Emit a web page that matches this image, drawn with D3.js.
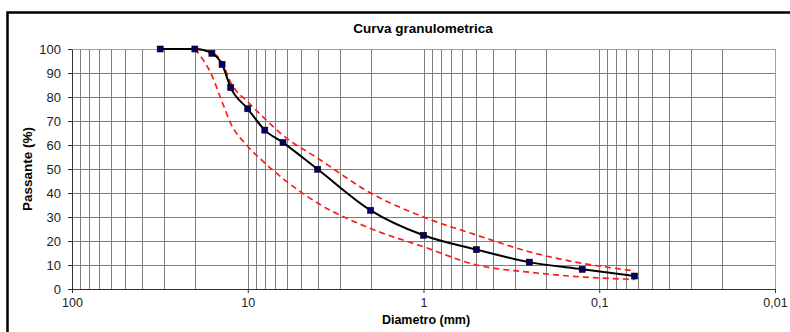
<!DOCTYPE html>
<html>
<head>
<meta charset="utf-8">
<script src="https://cdn.jsdelivr.net/npm/d3@7"></script>
<style>
  body { margin: 0; background: #fff; }
  svg { display: block; font-family: "Liberation Sans", Arial, sans-serif; }
</style>
</head>
<body>
<svg id="chart" width="790" height="332"></svg>
<script>
// sieve sizes (mm) and percent passing
const sieves = [31.5, 20, 16, 14, 12.5, 10, 8, 6.3, 4, 2, 1, 0.5, 0.25, 0.125, 0.063]
const passing = [100, 100, 98.2, 93.6, 83.9, 75.1, 66.2, 61, 49.9, 32.8, 22.4, 16.4, 11.2, 8.2, 5.4]

// envelope (fuso) limits, from 20 mm down
const limitSieves = [20, 16, 14, 12.5, 10, 8, 6.3, 4, 2, 1, 0.5, 0.25, 0.125, 0.063]
const upperLimit = [100, 98.5, 94.5, 86, 78, 71, 64, 54.5, 40, 30, 22.5, 15.5, 10.7, 7.6]
const lowerLimit = [100, 89, 78, 69, 59.5, 52.5, 46, 35.8, 25.2, 17.6, 10, 7, 5, 4]

const xTicks = [100, 10, 1, 0.1, 0.01]
const yTicks = [0, 10, 20, 30, 40, 50, 60, 70, 80, 90, 100]

const margin = { left: 72, top: 49, right: 15, bottom: 43 }
const width = 775 - margin.left
const height = 289 - margin.top

const svg = d3.select("#chart")

// outer frame, runs past the right/bottom edge like the original
svg.append("rect")
    .attr("x", 7.5).attr("y", 12.5)
    .attr("width", 820).attr("height", 400)
    .attr("fill", "none").attr("stroke", "#000").attr("stroke-width", 2.5)

svg.append("text")
    .attr("x", 423).attr("y", 33)
    .attr("text-anchor", "middle")
    .attr("font-size", 13.5).attr("font-weight", "bold")
    .text("Curva granulometrica")

const x = d3.scaleLog().domain([100, 0.01]).range([0, width])
const y = d3.scaleLinear().domain([0, 100]).range([height, 0])

const g = svg.append("g").attr("transform", `translate(${margin.left},${margin.top})`)

// grid
g.append("g")
    .selectAll("line")
    .data(x.ticks())
    .join("line")
    .attr("x1", (d) => Math.round(x(d)) + 0.5).attr("x2", (d) => Math.round(x(d)) + 0.5)
    .attr("y1", 0).attr("y2", height)
    .attr("stroke", "#7d7d7d").attr("stroke-width", 1)

g.append("g")
    .selectAll("line")
    .data(yTicks)
    .join("line")
    .attr("x1", 0).attr("x2", width)
    .attr("y1", (d) => Math.round(y(d)) + 0.5).attr("y2", (d) => Math.round(y(d)) + 0.5)
    .attr("stroke", "#7d7d7d").attr("stroke-width", 1)

// plot border (light grey on top / right)
g.append("rect")
    .attr("x", 0.5).attr("y", 0.5)
    .attr("width", width).attr("height", height)
    .attr("fill", "none").attr("stroke", "#a0a0a0").attr("stroke-width", 1)

const fmt = (d) => String(d).replace(".", ",")

const xAxis = g.append("g")
    .attr("transform", `translate(0, ${height})`)
    .call(d3.axisBottom(x).tickValues(xTicks).tickFormat(fmt).tickSize(4).tickPadding(5).tickSizeOuter(0))
xAxis.select(".domain").attr("stroke", "#333")
xAxis.selectAll(".tick line").attr("stroke", "#333")
xAxis.selectAll("text").attr("font-size", 12.5).attr("fill", "#222").attr("font-family", "Liberation Sans, Arial, sans-serif")

const yAxis = g.append("g")
    .call(d3.axisLeft(y).tickValues(yTicks).tickSize(4).tickPadding(7).tickSizeOuter(0))
yAxis.select(".domain").attr("stroke", "#333")
yAxis.selectAll(".tick line").attr("stroke", "#333")
yAxis.selectAll("text").attr("font-size", 13).attr("fill", "#222").attr("font-family", "Liberation Sans, Arial, sans-serif")

svg.append("text")
    .attr("x", 426).attr("y", 324)
    .attr("text-anchor", "middle")
    .attr("font-size", 12.5).attr("font-weight", "bold")
    .text("Diametro (mm)")

svg.append("text")
    .attr("transform", "translate(32, 169) rotate(-90)")
    .attr("text-anchor", "middle")
    .attr("font-size", 13.5).attr("font-weight", "bold")
    .text("Passante (%)")

const line = d3.line()
    .x((d) => x(d[0]))
    .y((d) => y(d[1]))
    .curve(d3.curveMonotoneX)

const limits = [upperLimit, lowerLimit].map((vals) => limitSieves.map((s, i) => [s, vals[i]]))

g.append("g")
    .selectAll("path")
    .data(limits)
    .join("path")
    .attr("fill", "none")
    .attr("stroke", "#ff1a1a")
    .attr("stroke-width", 1.7)
    .attr("stroke-dasharray", "6,4")
    .attr("d", line)

const pts = sieves.map((s, i) => [s, passing[i]])

g.append("path")
    .datum(pts)
    .attr("fill", "none")
    .attr("stroke", "#000")
    .attr("stroke-width", 2)
    .attr("d", line)

g.append("g")
    .selectAll("rect")
    .data(pts)
    .join("rect")
    .attr("x", (d) => x(d[0]) - 3)
    .attr("y", (d) => y(d[1]) - 3)
    .attr("width", 6).attr("height", 6)
    .attr("fill", "#000066")
    .attr("stroke", "#000").attr("stroke-width", 0.6)
</script>
</body>
</html>
